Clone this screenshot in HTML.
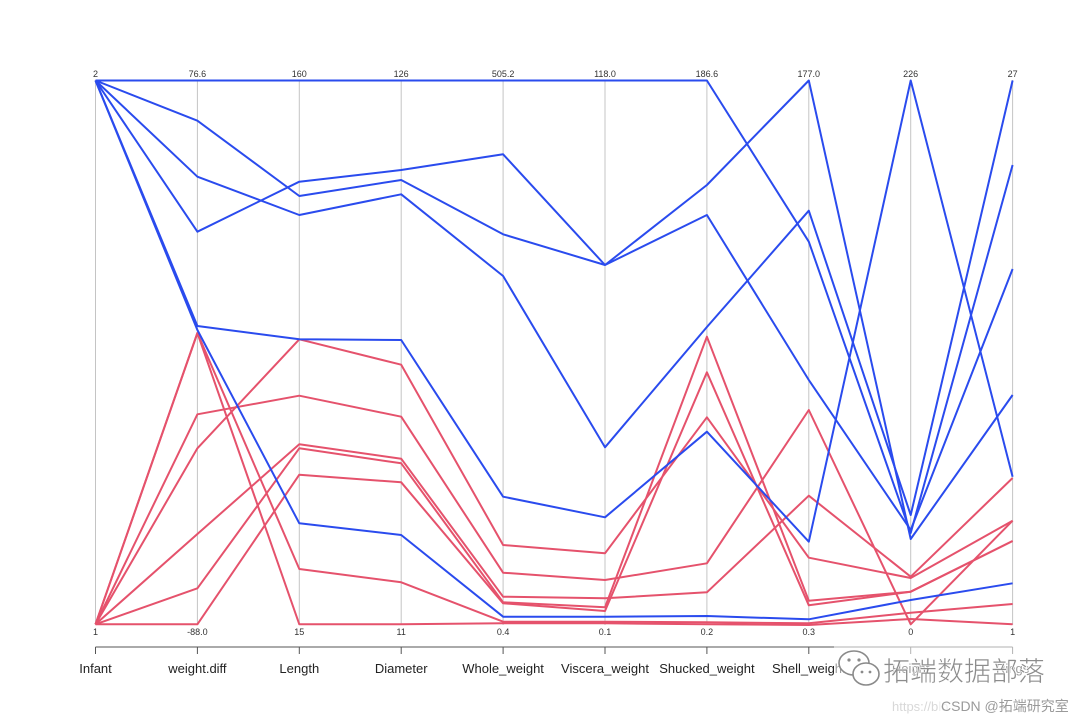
<!DOCTYPE html>
<html>
<head>
<meta charset="utf-8">
<style>
  html, body { margin:0; padding:0; background:#fff; }
  svg { display:block; }
  text { font-family: "Liberation Sans", "Noto Sans CJK SC", sans-serif; }
</style>
</head>
<body>
<svg width="1080" height="720" viewBox="0 0 1080 720" xmlns="http://www.w3.org/2000/svg">
  <rect width="1080" height="720" fill="#fff"/>
  <!-- vertical axes -->
  <g stroke="#c4c4c4" stroke-width="1">
    <line x1="95.5" y1="80" x2="95.5" y2="625"/>
    <line x1="197.4" y1="80" x2="197.4" y2="625"/>
    <line x1="299.3" y1="80" x2="299.3" y2="625"/>
    <line x1="401.2" y1="80" x2="401.2" y2="625"/>
    <line x1="503.1" y1="80" x2="503.1" y2="625"/>
    <line x1="605.0" y1="80" x2="605.0" y2="625"/>
    <line x1="706.9" y1="80" x2="706.9" y2="625"/>
    <line x1="808.8" y1="80" x2="808.8" y2="625"/>
    <line x1="910.7" y1="80" x2="910.7" y2="625"/>
    <line x1="1012.6" y1="80" x2="1012.6" y2="625"/>
  </g>

  <!-- red series -->
  <g fill="none" stroke="#E5526C" stroke-width="2" stroke-linejoin="round">
    <polyline points="95.5,624.3 197.4,333 299.3,569 401.2,582.3 503.1,621.7 605,621.7 706.9,622.3 808.8,623.3 910.7,612.7 1012.6,604"/>
    <polyline points="95.5,624.3 197.4,333 299.3,624.3 401.2,624.3 503.1,623.3 605,623.3 706.9,624.3 808.8,625 910.7,619 1012.6,624.3"/>
    <polyline points="95.5,624.3 197.4,414.3 299.3,395.7 401.2,416.7 503.1,572.7 605,580 706.9,563.3 808.8,410 910.7,624.3 1012.6,520.7"/>
    <polyline points="95.5,624.3 197.4,448.3 299.3,339.3 401.2,364.7 503.1,545 605,553.3 706.9,417.3 808.8,557.7 910.7,578 1012.6,520.7"/>
    <polyline points="95.5,624.3 197.4,534 299.3,444.3 401.2,458.7 503.1,596.7 605,598.3 706.9,592.3 808.8,495.7 910.7,576.7 1012.6,478"/>
    <polyline points="95.5,624.3 197.4,588.3 299.3,448.3 401.2,463.3 503.1,602.3 605,607.3 706.9,336.7 808.8,600.7 910.7,591.7 1012.6,541"/>
    <polyline points="95.5,624.3 197.4,624.3 299.3,474.7 401.2,482.3 503.1,603.3 605,611 706.9,372.3 808.8,605.3 910.7,591.7 1012.6,541"/>
  </g>

  <!-- blue series -->
  <g fill="none" stroke="#2A4BEE" stroke-width="2" stroke-linejoin="round">
    <polyline points="95.5,80.5 197.4,80.5 299.3,80.5 401.2,80.5 503.1,80.5 605,80.5 706.9,80.5 808.8,241.7 910.7,533 1012.6,165"/>
    <polyline points="95.5,80.5 197.4,120.7 299.3,196 401.2,180 503.1,234.3 605,265 706.9,185 808.8,80.5 910.7,539 1012.6,395"/>
    <polyline points="95.5,80.5 197.4,176.7 299.3,215 401.2,194.3 503.1,276 605,447.3 706.9,327 808.8,210.7 910.7,515 1012.6,80.5"/>
    <polyline points="95.5,80.5 197.4,231.7 299.3,181.7 401.2,170 503.1,154.3 605,265 706.9,215 808.8,380 910.7,530 1012.6,269"/>
    <polyline points="95.5,80.5 197.4,326 299.3,339.3 401.2,340 503.1,496.7 605,517.3 706.9,431.7 808.8,541.7 910.7,80.5 1012.6,476.7"/>
    <polyline points="95.5,80.5 197.4,330 299.3,523.3 401.2,535 503.1,616.7 605,616.7 706.9,616 808.8,619.3 910.7,600 1012.6,583.3"/>
  </g>

  <!-- top tick labels -->
  <g font-size="9" fill="#333" text-anchor="middle">
    <text x="95.5" y="77">2</text>
    <text x="197.4" y="77">76.6</text>
    <text x="299.3" y="77">160</text>
    <text x="401.2" y="77">126</text>
    <text x="503.1" y="77">505.2</text>
    <text x="605" y="77">118.0</text>
    <text x="706.9" y="77">186.6</text>
    <text x="808.8" y="77">177.0</text>
    <text x="910.7" y="77">226</text>
    <text x="1012.6" y="77">27</text>
  </g>
  <!-- bottom tick labels -->
  <g font-size="9" fill="#333" text-anchor="middle">
    <text x="95.5" y="635">1</text>
    <text x="197.4" y="635">-88.0</text>
    <text x="299.3" y="635">15</text>
    <text x="401.2" y="635">11</text>
    <text x="503.1" y="635">0.4</text>
    <text x="605" y="635">0.1</text>
    <text x="706.9" y="635">0.2</text>
    <text x="808.8" y="635">0.3</text>
    <text x="910.7" y="635">0</text>
    <text x="1012.6" y="635">1</text>
  </g>

  <!-- bottom axis -->
  <g stroke="#555" stroke-width="1">
    <line x1="95.5" y1="647" x2="1012.6" y2="647"/>
    <line x1="95.5" y1="647" x2="95.5" y2="654"/>
    <line x1="197.4" y1="647" x2="197.4" y2="654"/>
    <line x1="299.3" y1="647" x2="299.3" y2="654"/>
    <line x1="401.2" y1="647" x2="401.2" y2="654"/>
    <line x1="503.1" y1="647" x2="503.1" y2="654"/>
    <line x1="605" y1="647" x2="605" y2="654"/>
    <line x1="706.9" y1="647" x2="706.9" y2="654"/>
    <line x1="808.8" y1="647" x2="808.8" y2="654"/>
    <line x1="910.7" y1="647" x2="910.7" y2="654"/>
    <line x1="1012.6" y1="647" x2="1012.6" y2="654"/>
  </g>
  <g font-size="13" fill="#222" text-anchor="middle">
    <text x="95.5" y="673">Infant</text>
    <text x="197.4" y="673">weight.diff</text>
    <text x="299.3" y="673">Length</text>
    <text x="401.2" y="673">Diameter</text>
    <text x="503.1" y="673">Whole_weight</text>
    <text x="605" y="673">Viscera_weight</text>
    <text x="706.9" y="673">Shucked_weight</text>
    <text x="808.8" y="673">Shell_weight</text>
    <text x="910.7" y="673">Height</text>
    <text x="1012.6" y="673">Rings</text>
  </g>

  <!-- watermark -->
  <g>
    <rect x="834" y="645" width="215" height="48" fill="#fff" opacity="0.55"/>
    <g fill="#fff" stroke="#8a8a8a" stroke-width="1.6">
      <ellipse cx="854" cy="663" rx="15" ry="12"/>
      <ellipse cx="866" cy="674" rx="13" ry="11"/>
    </g>
    <g fill="#8a8a8a">
      <circle cx="849" cy="660" r="1.6"/>
      <circle cx="859" cy="660" r="1.6"/>
      <circle cx="862" cy="672" r="1.4"/>
      <circle cx="870" cy="672" r="1.4"/>
    </g>
    <text x="883" y="681" font-size="27" fill="#8c8c8c" stroke="#ffffff" stroke-width="0.6" font-family="'Liberation Sans','Noto Sans CJK SC',sans-serif">拓端数据部落</text>
    <text x="892" y="711" font-size="13" fill="#d8d8d8">https://blo</text>
    <rect x="938" y="697" width="140" height="18" fill="#fff" opacity="0.6"/>
    <text x="941" y="711" font-size="14" fill="#9a9a9a" font-family="'Liberation Sans','Noto Sans CJK SC',sans-serif">CSDN @拓端研究室</text>
  </g>
</svg>
</body>
</html>
